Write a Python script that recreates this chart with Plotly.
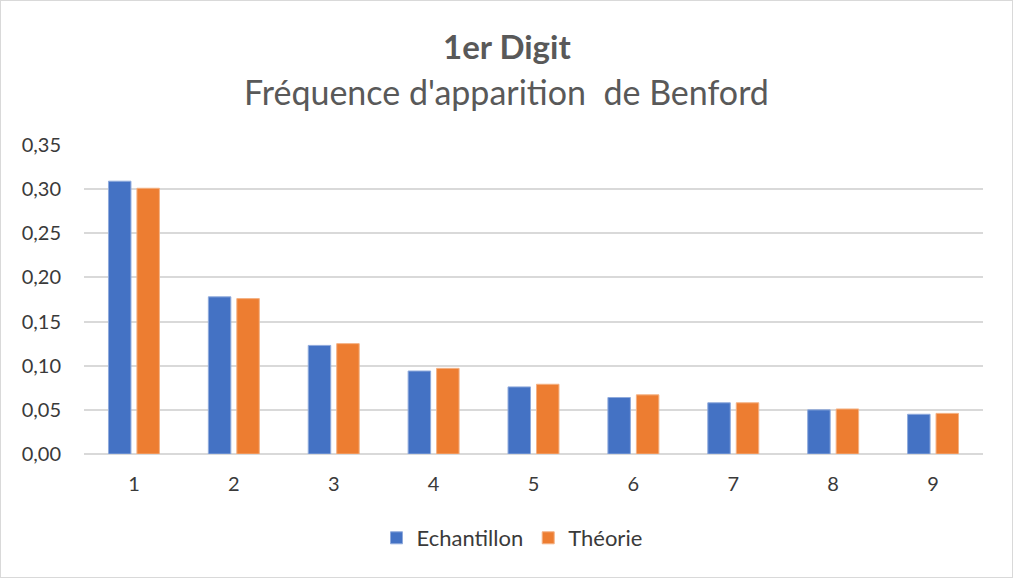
import plotly.graph_objects as go

# premier chiffre significatif
digits = ["1", "2", "3", "4", "5", "6", "7", "8", "9"]
# frequences observees dans l'echantillon
echantillon = [0.309, 0.178, 0.123, 0.094, 0.076, 0.064, 0.058, 0.050, 0.045]
# loi de Benford
theorie = [0.301, 0.176, 0.125, 0.097, 0.079, 0.067, 0.058, 0.051, 0.046]

blue = "#4472C4"
orange = "#ED7D31"
txt = "#3A3A3A"
grid = "#D9D9D9"

fig = go.Figure()
fig.add_trace(go.Bar(
    x=digits, y=echantillon, name="Echantillon",
    marker=dict(color=blue, line=dict(color="#8FAADC", width=1))))
fig.add_trace(go.Bar(
    x=digits, y=theorie, name="Théorie",
    marker=dict(color=orange, line=dict(color="#F4B183", width=1))))

plot_w = 1013 - 84 - 30
plot_h = 578 - 145 - 124
# centre de la page exprime en coordonnees "paper"
page_cx = (1013 / 2 - 84) / plot_w

fig.update_layout(
    width=1013, height=578,
    margin=dict(l=84, r=30, t=145, b=124),
    paper_bgcolor="white",
    plot_bgcolor="white",
    barmode="group",
    bargap=0.43,
    bargroupgap=0.21,
    separators=", ",
    font=dict(family="Lato", size=20, color=txt),
    showlegend=True,
    legend=dict(
        orientation="h",
        x=(512 - 84) / plot_w, xanchor="center",
        y=-(538 - 454) / plot_h, yanchor="middle",
        font=dict(size=22, color=txt),
        itemwidth=30,
    ),
    xaxis=dict(
        showgrid=False,
        showline=False,
        ticks="",
        tickfont=dict(size=20, color=txt),
        ticklabelstandoff=16,
    ),
    yaxis=dict(
        range=[0, 0.35],
        dtick=0.05,
        tickformat=".2f",
        showgrid=True,
        gridcolor=grid,
        gridwidth=1.5,
        zeroline=True,
        zerolinecolor=grid,
        zerolinewidth=1.5,
        showline=False,
        ticks="",
        tickfont=dict(size=20, color=txt),
        ticklabelstandoff=22,
    ),
    annotations=[
        dict(text="<b>1er Digit</b>", x=page_cx, y=1 + (145 - 46) / plot_h,
             xref="paper", yref="paper", yanchor="middle",
             showarrow=False, font=dict(size=33, color="#595959")),
        dict(text="Fréquence d'apparition  de Benford", x=page_cx,
             y=1 + (145 - 91) / plot_h, xref="paper", yref="paper",
             yanchor="middle", showarrow=False,
             font=dict(size=34, color="#595959")),
    ],
)

# cadre autour du graphique entier
fig.add_shape(type="rect", xref="paper", yref="paper",
              x0=-84 / plot_w, x1=1 + 30 / plot_w,
              y0=-124 / plot_h, y1=1 + 145 / plot_h,
              line=dict(color=grid, width=2))

fig.write_html("out.html", config={"displayModeBar": False},
               post_script="document.body.style.margin='0';")
